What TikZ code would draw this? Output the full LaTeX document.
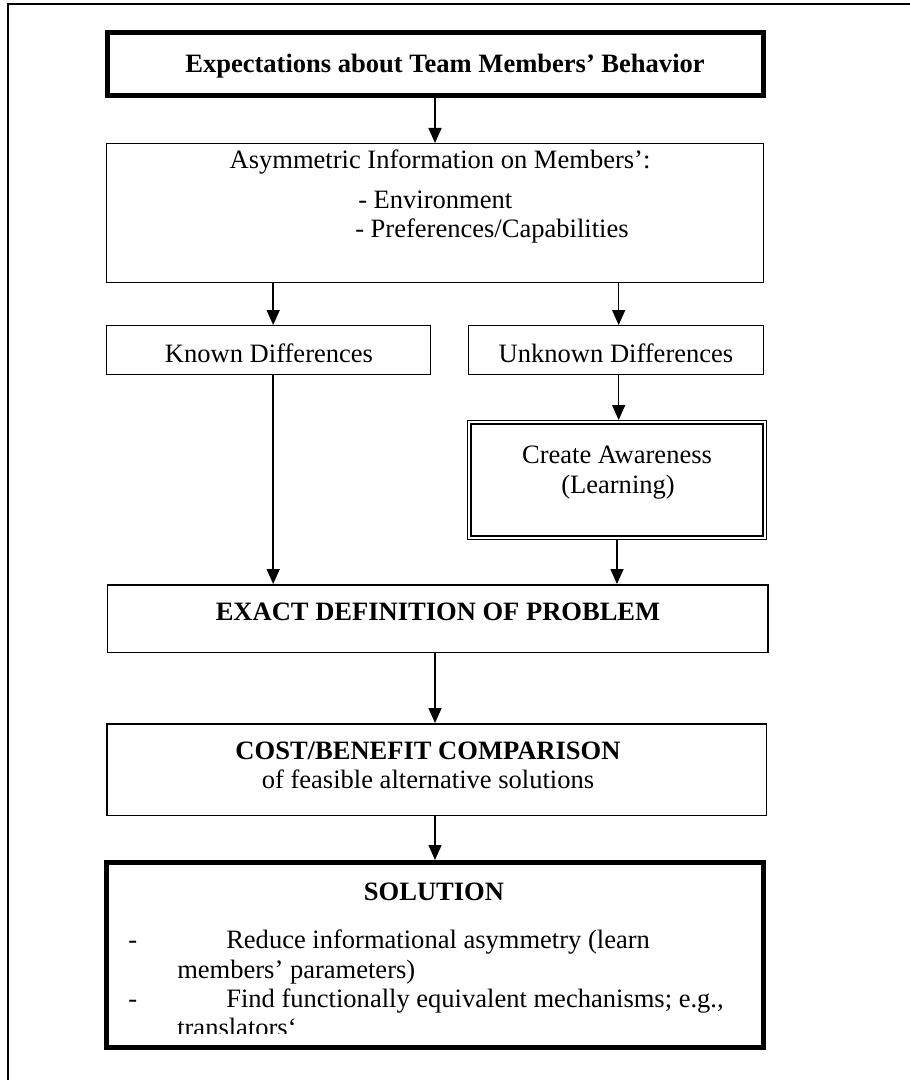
\documentclass[tikz,border=0pt]{standalone}
\usepackage{fontspec}
\setmainfont{Liberation Serif}
\usetikzlibrary{arrows.meta}
\begin{document}
\begin{tikzpicture}[x=0.75pt,y=-0.75pt,
  box/.style={draw, line width=1.1pt, inner sep=0pt},
  heavybox/.style={draw, line width=3.75pt, inner sep=0pt},
  txt/.style={font=\fontsize{19.9}{22.5}\selectfont, inner sep=0pt},
  btxt/.style={font=\fontsize{19.9}{22.5}\selectfont\bfseries, inner sep=0pt},
  arr/.style={-{Triangle[width=9.75pt,length=11.25pt]}, line width=1.1pt}]
\useasboundingbox (0,0) rectangle (909,1080);
\fill[white] (0,0) rectangle (909,1080);
% outer frame (cut by the page edge)
\draw[line width=1.1pt] (8,1095) -- (8,4) -- (925,4);

% boxes
\node[heavybox, minimum width=492pt, minimum height=47.25pt] (top) at (435.5,64) {};
\node[box, minimum width=492.4pt, minimum height=103.9pt] (asym) at (435,213) {};
\node[box, minimum width=243pt, minimum height=36.4pt] (known) at (268.5,350) {};
\node[box, minimum width=220.9pt, minimum height=36.4pt] (unknown) at (616,350) {};
\node[box, minimum width=223.9pt, minimum height=88.9pt] (create) at (617,480) {};
\draw[line width=1.9pt] ([shift={(3.8,3.8)}]create.north west) rectangle ([shift={(-3.8,-3.8)}]create.south east);
\node[box, minimum width=495.4pt, minimum height=50.6pt] (exact) at (437.5,618.5) {};
\node[box, minimum width=494.6pt, minimum height=68.6pt] (cost) at (436.5,769.5) {};
\node[heavybox, minimum width=492.75pt, minimum height=138.75pt] (sol) at (435,955) {};

% texts
\node[btxt, anchor=base] (toptxt) at (445,73) {Expectations about Team Members’ Behavior};
\node[txt, anchor=base] (asym1) at (440,169) {Asymmetric Information on Members’:};
\node[txt, anchor=base west] (asym2) at (358,209) {- Environment};
\node[txt, anchor=base west] (asym3) at (355,238) {- Preferences/Capabilities};
\node[txt, anchor=base] (knowntxt) at (269,362) {Known Differences};
\node[txt, anchor=base] (unknowntxt) at (616,362) {Unknown Differences};
\node[txt, anchor=base] (create1) at (617,463) {Create Awareness};
\node[txt, anchor=base] (create2) at (618,493) {(Learning)};
\node[btxt, anchor=base] (exacttxt) at (438,620) {EXACT DEFINITION OF PROBLEM};
\node[btxt, anchor=base] (cost1) at (428,759) {COST/BENEFIT COMPARISON};
\node[txt, anchor=base] (cost2) at (428,788) {of feasible alternative solutions};
\node[btxt, anchor=base] (soltxt) at (434,900) {SOLUTION};
\node[txt, anchor=base west] (dash1) at (128,948) {-};
\node[txt, anchor=base west] (s1) at (226,948) {Reduce informational asymmetry (learn};
\node[txt, anchor=base west] (s2) at (177,978) {members’ parameters)};
\node[txt, anchor=base west] (dash2) at (128,1007) {-};
\node[txt, anchor=base west] (s3) at (226,1007) {Find functionally equivalent mechanisms; e.g.,};
\begin{scope}
\clip (110,1012) rectangle (760,1033);
\node[txt, anchor=base west] (s4) at (177,1036) {translators‘};
\end{scope}

% connectors
\draw[arr] (top.south -| asym.north) -- (asym.north);
\draw[arr] ([xshift=3.5]asym.south -| known.north) -- ([xshift=3.5]known.north);
\draw[arr] ([xshift=2]asym.south -| unknown.north) -- ([xshift=2]unknown.north);
\draw[arr] ([xshift=2]unknown.south) -- ([xshift=2]unknown.south |- create.north);
\draw[arr] ([xshift=3.5]known.south) -- ([xshift=3.5]known.south |- exact.north);
\draw[arr] (create.south) -- (create.south |- exact.north);
\draw[arr] (exact.south -| asym.south) -- (asym.south |- cost.north);
\draw[arr] (cost.south -| sol.north) -- (sol.north);
\end{tikzpicture}
\end{document}
